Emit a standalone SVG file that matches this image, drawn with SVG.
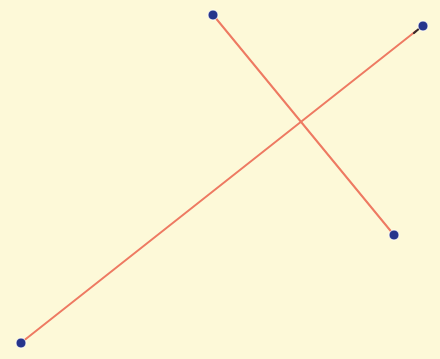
<svg xmlns="http://www.w3.org/2000/svg" width="440" height="359" viewBox="0 0 440 359">
<style>
.seg{stroke:#ee7a62;stroke-width:2;stroke-linecap:round;fill:none}
.pt{fill:#26358c;stroke:#ffffff;stroke-width:0.8}
</style>
<rect width="440" height="359" fill="#fdf9d8"/>
<g id="connectors">
<line class="seg" x1="214" y1="16" x2="394" y2="235"/>
<line class="seg" x1="22" y1="342" x2="416" y2="31"/>
<line x1="414" y1="33" x2="421" y2="27" stroke="#3a2a2a" stroke-width="2.2" stroke-linecap="round"/>
</g>
<g id="p1"><circle class="pt" cx="213" cy="15" r="5"/></g>
<g id="p2"><circle class="pt" cx="423" cy="26" r="5"/></g>
<g id="p3"><circle class="pt" cx="394" cy="235" r="5"/></g>
<g id="p4"><circle class="pt" cx="21" cy="343" r="5"/></g>
</svg>
